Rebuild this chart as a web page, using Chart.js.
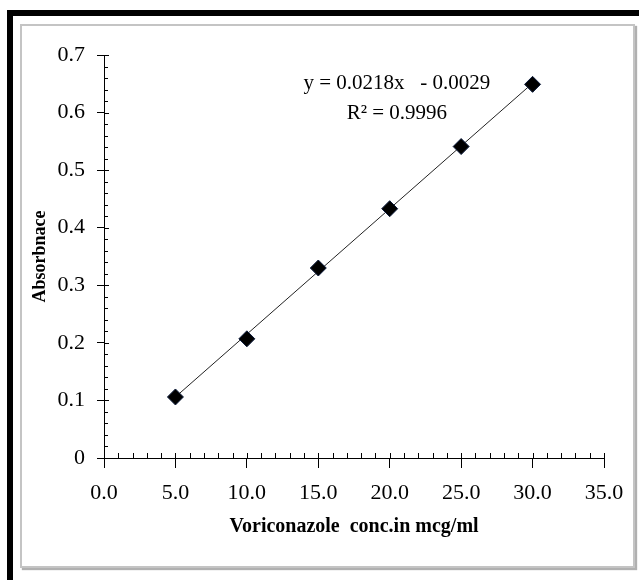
<!doctype html>
<html lang="en">
  <head>
    <meta charset="utf-8">
    <title>Voriconazole calibration curve</title>
    <style>
      * {
        margin: 0;
        padding: 0;
      }
      body {
        width: 639px;
        height: 580px;
        background: white;
        position: relative;
        overflow: hidden;
      }
      .outerFrame {
        position: absolute;
        left: 7px;
        top: 10px;
        width: 640px;
        height: 600px;
        border-top: 6px solid #000;
        border-left: 6px solid #000;
      }
      .innerBox {
        position: absolute;
        left: 20px;
        top: 24px;
        width: 611px;
        height: 540px;
        border: 2px solid #c4c4c4;
        box-shadow: 2px 2px 1px #b0b0b0;
      }
      #myChart {
        position: absolute;
        left: 0;
        top: 0;
      }
    </style>
  </head>
  <body>
    <div class="outerFrame"></div>
    <div class="innerBox"></div>
    <canvas id="myChart" width="639" height="580"></canvas>

    <script src="https://cdn.jsdelivr.net/npm/chart.js"></script>
    <script>
      // data
      const concentrations = [5, 10, 15, 20, 25, 30];
      const absorbance = [0.106, 0.207, 0.330, 0.433, 0.541, 0.649];
      const trendX = [5, 30];
      const trendY = [0.106, 0.651];
      const equationLines = ['y = 0.0218x   - 0.0029', 'R² = 0.9996'];
      const xTicks = [0, 5, 10, 15, 20, 25, 30, 35];
      const yTicks = [0, 0.1, 0.2, 0.3, 0.4, 0.5, 0.6, 0.7];

      const serif = "'Liberation Serif', 'Times New Roman', serif";

      // minor ticks + inner half of major ticks, and the equation text
      const extras = {
        id: 'extras',
        afterDraw(chart) {
          const ctx = chart.ctx;
          const xs = chart.scales.x;
          const ys = chart.scales.y;
          const x0 = xs.getPixelForValue(0);
          const y0 = ys.getPixelForValue(0);
          ctx.save();
          ctx.strokeStyle = '#000';
          ctx.lineWidth = 1;
          ctx.beginPath();
          for (let v = 0; v <= 35; v += 1) {
            const px = Math.round(xs.getPixelForValue(v)) + 0.5;
            ctx.moveTo(px, y0);
            ctx.lineTo(px, y0 - 5);
          }
          for (let i = 0; i <= 35; i++) {
            const py = Math.round(ys.getPixelForValue(i * 0.02)) + 0.5;
            ctx.moveTo(x0, py);
            ctx.lineTo(x0 + (i % 5 === 0 ? 5 : 4), py);
          }
          ctx.stroke();

          ctx.fillStyle = '#000';
          ctx.font = '21px ' + serif;
          ctx.textAlign = 'center';
          ctx.textBaseline = 'middle';
          ctx.fillText(equationLines[0], xs.getPixelForValue(20.5), ys.getPixelForValue(0.651));
          ctx.fillText(equationLines[1], xs.getPixelForValue(20.5), ys.getPixelForValue(0.598));
          ctx.restore();
        }
      };

      const data = {
        datasets: [
          {
            label: 'Absorbance',
            data: concentrations.map((c, i) => ({ x: c, y: absorbance[i] })),
            pointStyle: 'rectRot',
            pointRadius: 8,
            pointBackgroundColor: '#000',
            pointBorderColor: '#0b1a3a',
            pointBorderWidth: 1,
            showLine: false,
            order: 1
          },
          {
            label: 'Linear trend',
            data: trendX.map((c, i) => ({ x: c, y: trendY[i] })),
            showLine: true,
            borderColor: '#222',
            borderWidth: 1,
            pointRadius: 0,
            order: 2
          }
        ]
      };

      const config = {
        type: 'scatter',
        data,
        plugins: [extras],
        options: {
          responsive: false,
          animation: false,
          layout: {
            padding: { left: 20, top: 55, right: 35, bottom: 41 }
          },
          plugins: {
            legend: { display: false },
            tooltip: { enabled: false }
          },
          scales: {
            x: {
              type: 'linear',
              min: 0,
              max: 35,
              afterBuildTicks: (s) => { s.ticks = xTicks.map(v => ({ value: v })); },
              afterFit: (s) => { s.height = 81; },
              grid: { drawOnChartArea: false, color: '#000', tickLength: 10 },
              border: { color: '#000', width: 1 },
              ticks: {
                color: '#000',
                padding: 12,
                maxRotation: 0,
                font: { family: serif, size: 22 },
                callback: (v) => Number(v).toFixed(1)
              },
              title: {
                display: true,
                text: 'Voriconazole  conc.in mcg/ml',
                color: '#000',
                font: { family: serif, size: 20, weight: 'bold' },
                padding: { top: 4, bottom: 0 }
              }
            },
            y: {
              type: 'linear',
              min: 0,
              max: 0.7,
              afterBuildTicks: (s) => { s.ticks = yTicks.map(v => ({ value: v })); },
              afterFit: (s) => { s.width = 84; },
              grid: { drawOnChartArea: false, color: '#000', tickLength: 7 },
              border: { color: '#000', width: 1 },
              ticks: {
                color: '#000',
                padding: 12,
                font: { family: serif, size: 22 },
                callback: (v) => v === 0 ? '0' : Number(v).toFixed(1)
              },
              title: {
                display: true,
                text: 'Absorbnace',
                color: '#000',
                font: { family: serif, size: 18, weight: 'bold' },
                padding: { top: 10, bottom: 0 }
              }
            }
          }
        }
      };

      const myChart = new Chart(
        document.getElementById('myChart'),
        config
      );
    </script>
  </body>
</html>
